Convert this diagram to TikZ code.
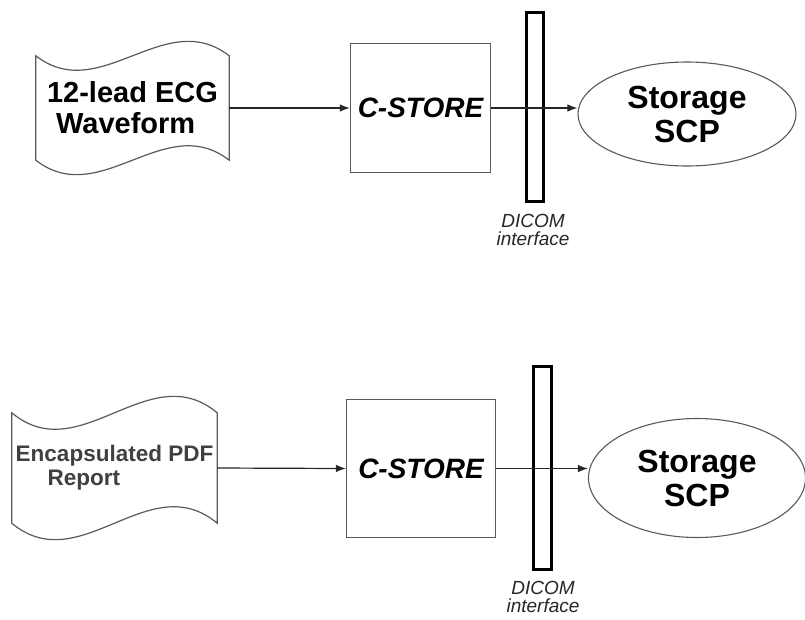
\documentclass[tikz,border=0pt]{standalone}
\usepackage{fontspec}
\setmainfont{Liberation Sans}
\usetikzlibrary{arrows.meta,shapes.geometric}

% wavy document outline around a node: #1 node, #2 third of width, #3 depth of the wave
\newcommand\docwave[3]{%
  \draw [wave] (#1.north west) .. controls +(#2,#3) and +(-#2,-#3) .. (#1.north east)
    -- (#1.south east) .. controls +(-#2,-#3) and +(#2,#3) .. (#1.south west) -- cycle;}

\begin{document}
\begin{tikzpicture}[x=1pt, y=-1pt, >={Latex[length=10pt,width=7.5pt]},
  wave/.style={draw=black!65, line width=1.2pt},
  doc/.style={inner sep=0pt, align=left, font=\bfseries\fontsize{29}{31}\selectfont},
  box/.style={draw=black!65, line width=1.2pt, inner sep=0pt,
    font=\bfseries\itshape\fontsize{28}{30}\selectfont},
  bar/.style={draw, line width=3pt, inner sep=0pt},
  scp/.style={ellipse, draw=black!65, line width=1.1pt, inner sep=0pt, align=center,
    font=\bfseries\fontsize{32}{34}\selectfont},
  port/.style={align=center, text=black!85, font=\itshape\fontsize{19}{18}\selectfont},
  link/.style={->, draw=black!85, line width=1.2pt}]
\useasboundingbox (0,0) rectangle (805,619);

% upper row
\node [doc, minimum width=193pt, minimum height=104pt] (ecg) at (132.5,108)
  {12-lead ECG\\\hspace*{9pt}Waveform};
\docwave{ecg}{64.3}{50}
\node [box, minimum width=140pt, minimum height=129pt] (cstore-1) at (420.5,108) {C-STORE};
\node [bar, minimum width=17pt, minimum height=189pt] (bar-1) at (535,107) {};
\node [scp, minimum width=218pt, minimum height=104pt] (scp-1) at (687,114) {Storage\\SCP};
\node [port] (dicom-1) at (533,230) {DICOM\\interface};
\draw [link] (ecg.east) -- (cstore-1.west);
\draw [link] (cstore-1.east) -- (cstore-1.east -| scp-1.west);

% lower row
\node [doc, minimum width=205pt, minimum height=110pt, text=black!75,
  font=\bfseries\fontsize{22.5}{24}\selectfont] (pdf) at (114.5,468)
  {Encapsulated PDF\\\hspace*{32pt}Report};
\docwave{pdf}{68.3}{57}
\node [box, minimum width=149pt, minimum height=138pt] (cstore-2) at (421,468.5) {C-STORE};
\node [bar, minimum width=18pt, minimum height=203pt] (bar-2) at (542.5,468) {};
\node [scp, minimum width=217pt, minimum height=119pt] (scp-2) at (697,478) {Storage\\SCP};
\node [port] (dicom-2) at (543,597) {DICOM\\interface};
\draw [link] (pdf.east) -- (cstore-2.west);
\draw [link] (cstore-2.east) -- (cstore-2.east -| scp-2.west);
\end{tikzpicture}
\end{document}
